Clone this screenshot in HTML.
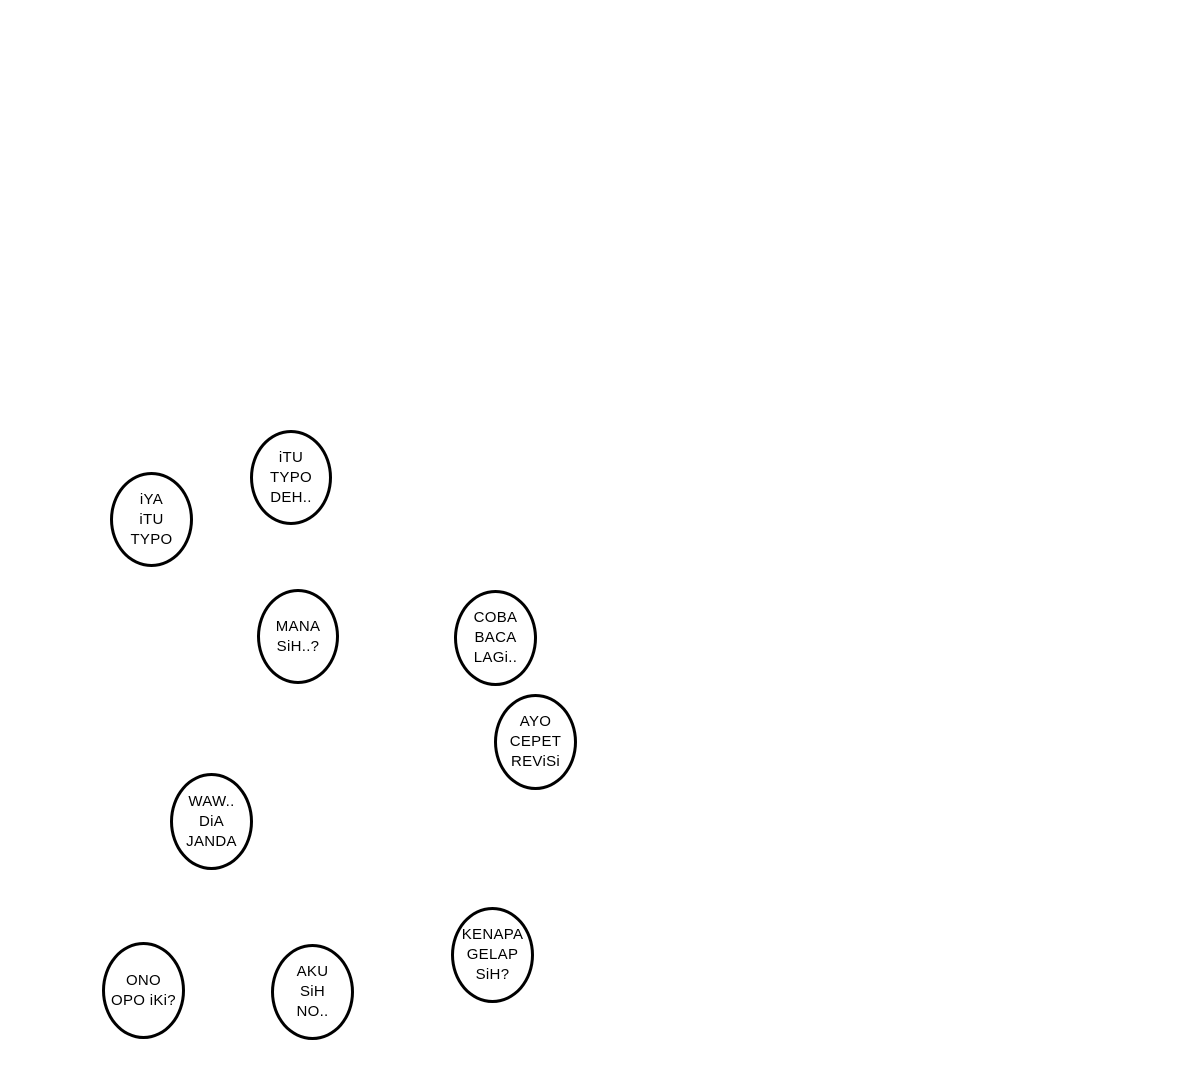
<!DOCTYPE html>
<html><head><meta charset="utf-8"><style>
html,body{margin:0;padding:0;background:#fff;}
body{width:1200px;height:1067px;position:relative;overflow:hidden;}
.b{position:absolute;box-sizing:border-box;border:3.5px solid #000;border-radius:50%;background:#fff;
display:flex;align-items:center;justify-content:center;text-align:center;
font-family:"Liberation Sans",sans-serif;font-size:15px;line-height:20px;color:#000;letter-spacing:0.3px;}
</style></head><body>
<div class="b" style="left:250px;top:430px;width:82px;height:95px;">iTU<br>TYPO<br>DEH..</div>
<div class="b" style="left:110px;top:472px;width:83px;height:95px;">iYA<br>iTU<br>TYPO</div>
<div class="b" style="left:257px;top:589px;width:82px;height:95px;">MANA<br>SiH..?</div>
<div class="b" style="left:454px;top:590px;width:83px;height:96px;">COBA<br>BACA<br>LAGi..</div>
<div class="b" style="left:494px;top:694px;width:83px;height:96px;">AYO<br>CEPET<br>REViSi</div>
<div class="b" style="left:170px;top:773px;width:83px;height:97px;">WAW..<br>DiA<br>JANDA</div>
<div class="b" style="left:451px;top:907px;width:83px;height:96px;">KENAPA<br>GELAP<br>SiH?</div>
<div class="b" style="left:102px;top:942px;width:83px;height:97px;">ONO<br>OPO iKi?</div>
<div class="b" style="left:271px;top:944px;width:83px;height:96px;">AKU<br>SiH<br>NO..</div>
</body></html>
